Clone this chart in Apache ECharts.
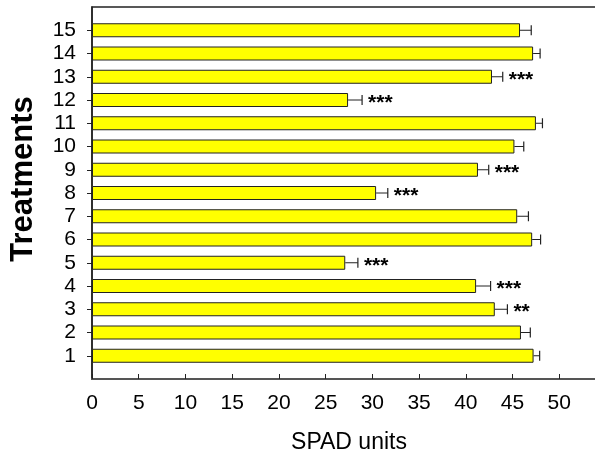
<!DOCTYPE html>
<html>
<head>
<meta charset="utf-8">
<script src="https://cdn.jsdelivr.net/npm/echarts@6/dist/echarts.min.js"></script>
<style>html,body{margin:0;padding:0;background:#fff}#c{width:595px;height:456px}</style>
</head>
<body>
<div id="c"></div>
<script>
const treatments = ['1','2','3','4','5','6','7','8','9','10','11','12','13','14','15'];
const means = [47.25, 45.9, 43.1, 41.1, 27.1, 47.1, 45.5, 30.4, 41.3, 45.2, 47.5, 27.4, 42.8, 47.2, 45.8];
const errors = [0.65, 1.0, 1.35, 1.55, 1.35, 0.9, 1.2, 1.25, 1.15, 1.0, 0.7, 1.5, 1.15, 0.75, 1.2];
const significance = ['', '', '**', '***', '***', '', '', '***', '***', '', '', '***', '***', '', ''];
const xTicks = [0, 5, 10, 15, 20, 25, 30, 35, 40, 45, 50];

const categories = [''].concat(treatments, ['']);
const barData = ['-'].concat(means, ['-']);
const errData = treatments.map((t, i) => [means[i], i + 1, errors[i], significance[i]]);

const chart = echarts.init(document.getElementById('c'), null, {renderer: 'canvas'});
const font = '"Liberation Sans", Arial, sans-serif';
chart.setOption({
  animation: false,
  grid: {left: 92, right: -11, top: 7, bottom: 77, containLabel: false, outerBoundsMode: 'none',
         show: true, borderColor: '#222', borderWidth: 1.5},
  xAxis: {
    type: 'value', min: 0, max: 55, interval: 5,
    name: 'SPAD units', nameLocation: 'middle', nameGap: 52,
    nameTextStyle: {fontFamily: font, fontSize: 23, color: '#000'},
    axisLine: {show: true, lineStyle: {color: '#555', width: 2}},
    axisTick: {show: true, inside: true, length: 5, lineStyle: {color: '#222'}},
    axisLabel: {fontFamily: font, fontSize: 21, color: '#000', margin: 14,
      formatter: v => xTicks.indexOf(v) >= 0 ? String(v) : ''},
    splitLine: {show: false}
  },
  yAxis: {
    type: 'category', data: categories, boundaryGap: false,
    name: 'Treatments', nameLocation: 'middle', nameGap: 53,
    nameTextStyle: {fontFamily: font, fontSize: 31, fontWeight: 'bold', color: '#000', padding: [0, 0, 0, 28]},
    axisLine: {show: true, lineStyle: {color: '#222', width: 1.5}},
    axisTick: {show: true, inside: false, length: 5, interval: (i) => i > 0 && i < categories.length - 1, lineStyle: {color: '#222'}},
    axisLabel: {fontFamily: font, fontSize: 21, color: '#000', margin: 16, interval: 0},
    splitLine: {show: false}
  },
  series: [
    {
      type: 'bar', data: barData, barWidth: 14,
      itemStyle: {color: '#ffff00', borderColor: '#222', borderWidth: 1}
    },
    {
      type: 'custom', data: errData, encode: {x: 0, y: 1}, z: 3,
      renderItem: function (params, api) {
        const m = api.value(0), idx = api.value(1), e = api.value(2);
        const txt = errData[params.dataIndex][3];
        const p0 = api.coord([m, idx]);
        const p1 = api.coord([m + e, idx]);
        const h = 5;
        const children = [
          {type: 'line', shape: {x1: p0[0], y1: p0[1], x2: p1[0], y2: p1[1]}, style: {stroke: '#222', lineWidth: 1}},
          {type: 'line', shape: {x1: p1[0], y1: p1[1] - h, x2: p1[0], y2: p1[1] + h}, style: {stroke: '#222', lineWidth: 1.2}}
        ];
        if (txt) {
          children.push({type: 'text', style: {text: txt, x: p1[0] + 6, y: p1[1] + 3, fill: '#000',
            font: 'bold 21px "Liberation Sans", Arial, sans-serif', textAlign: 'left', textVerticalAlign: 'middle'}});
        }
        return {type: 'group', children: children};
      }
    }
  ]
});
</script>
</body>
</html>
